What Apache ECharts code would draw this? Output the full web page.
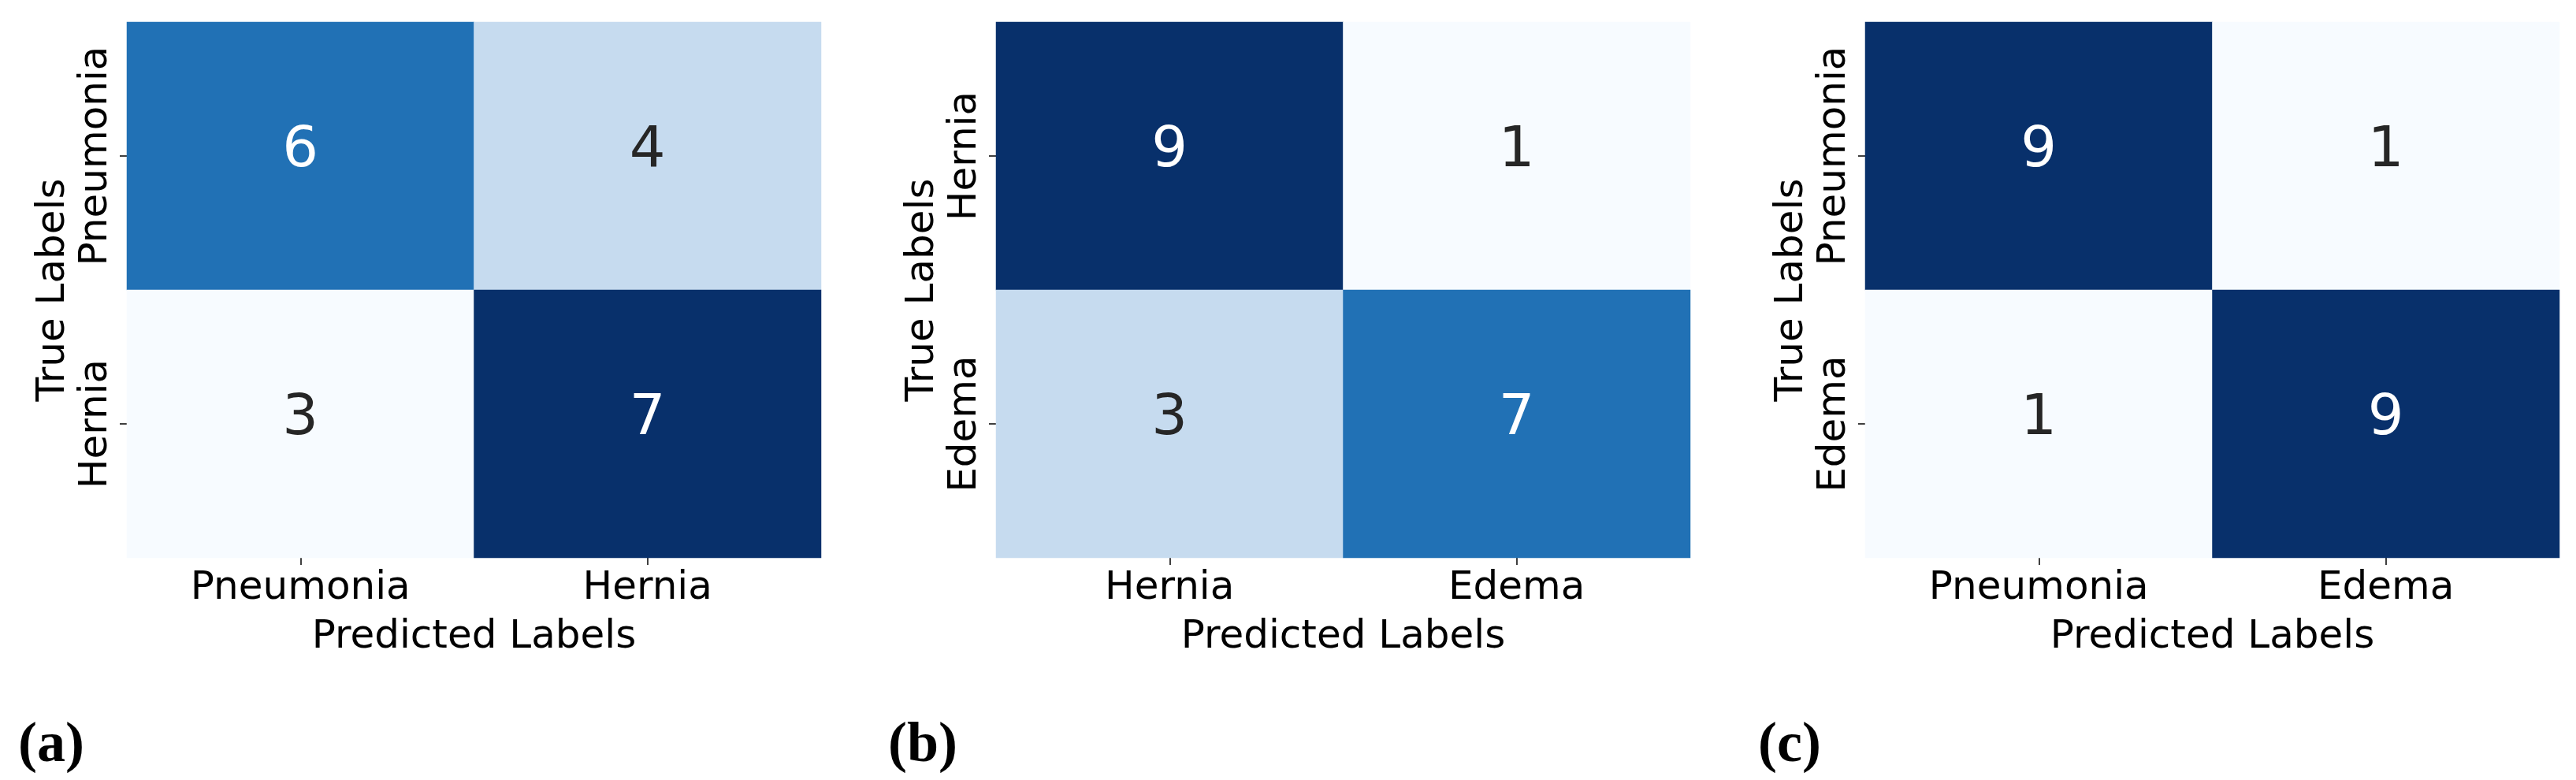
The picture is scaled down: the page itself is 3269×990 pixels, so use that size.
<!DOCTYPE html>
<html>
<head>
<meta charset="utf-8">
<script src="https://cdn.jsdelivr.net/npm/echarts@6/dist/echarts.min.js"></script>
<style>
html,body{margin:0;padding:0;background:#fff;}
#chart{width:3269px;height:990px;}
</style>
</head>
<body>
<div id="chart"></div>
<script>
// ---- Data ----
const panelLabels = ['(a)', '(b)', '(c)'];
const catsA = ['Pneumonia', 'Hernia'];
const catsB = ['Hernia', 'Edema'];
const catsC = ['Pneumonia', 'Edema'];
const valuesA = [[6, 4], [3, 7]];
const valuesB = [[9, 1], [3, 7]];
const valuesC = [[9, 1], [1, 9]];
const xAxisTitle = 'Predicted Labels';
const yAxisTitle = 'True Labels';

// matplotlib "Blues" colormap stops
const blues = ['#f7fbff','#deebf7','#c6dbef','#9ecae1','#6baed6','#4292c6','#2171b5','#08519c','#08306b'];

const panels = [
  {cats: catsA, vals: valuesA},
  {cats: catsB, vals: valuesB},
  {cats: catsC, vals: valuesC}
];
const gridLefts = [161, 1264, 2367];
const labelLefts = [18, 1122, 2226];
const FONT = 'DejaVu Sans';

const option = {
  backgroundColor: '#ffffff',
  animation: false,
  title: [],
  grid: [],
  xAxis: [],
  yAxis: [],
  visualMap: [],
  series: []
};

panels.forEach((p, k) => {
  const flat = p.vals.flat();
  const mn = Math.min(...flat), mx = Math.max(...flat);
  option.grid.push({left: gridLefts[k], top: 28, width: 881, height: 680, containLabel: false});
  option.xAxis.push({
    type: 'category', gridIndex: k, data: p.cats, position: 'bottom',
    axisLine: {show: false},
    axisTick: {show: true, alignWithLabel: true, length: 9, lineStyle: {color: '#000', width: 1.5}},
    axisLabel: {interval: 0, color: '#000', fontFamily: FONT, fontSize: 50, margin: 14},
    splitLine: {show: false},
    name: xAxisTitle, nameLocation: 'middle', nameGap: 76,
    nameTextStyle: {color: '#000', fontFamily: FONT, fontSize: 50}
  });
  option.yAxis.push({
    type: 'category', gridIndex: k, data: p.cats, inverse: true,
    axisLine: {show: false},
    axisTick: {show: true, alignWithLabel: true, length: 9, lineStyle: {color: '#000', width: 1.5}},
    axisLabel: {interval: 0, rotate: 90, color: '#000', fontFamily: FONT, fontSize: 50, margin: 14},
    splitLine: {show: false},
    name: yAxisTitle, nameLocation: 'middle', nameGap: 68, nameRotate: 90,
    nameTextStyle: {color: '#000', fontFamily: FONT, fontSize: 50}
  });
  option.visualMap.push({
    type: 'continuous', show: false, seriesIndex: k, min: mn, max: mx,
    dimension: 2, inRange: {color: blues}
  });
  const data = [];
  p.vals.forEach((row, i) => row.forEach((v, j) => {
    const t = (v - mn) / (mx - mn);
    data.push({value: [j, i, v], label: {color: t > 0.5 ? '#ffffff' : '#262626'}});
  }));
  option.series.push({
    type: 'heatmap', xAxisIndex: k, yAxisIndex: k, data: data,
    label: {show: true, fontFamily: FONT, fontSize: 72, offset: [0, -6],
      formatter: (d) => String(d.value[2])},
    itemStyle: {borderWidth: 0},
    emphasis: {disabled: true}
  });
  option.title.push({
    text: panelLabels[k], left: labelLefts[k], top: 906,
    textStyle: {fontFamily: 'Liberation Serif', fontWeight: 'bold', fontSize: 72, color: '#000'}
  });
});

const chart = echarts.init(document.getElementById('chart'), null, {renderer: 'canvas'});
chart.setOption(option);
</script>
</body>
</html>
